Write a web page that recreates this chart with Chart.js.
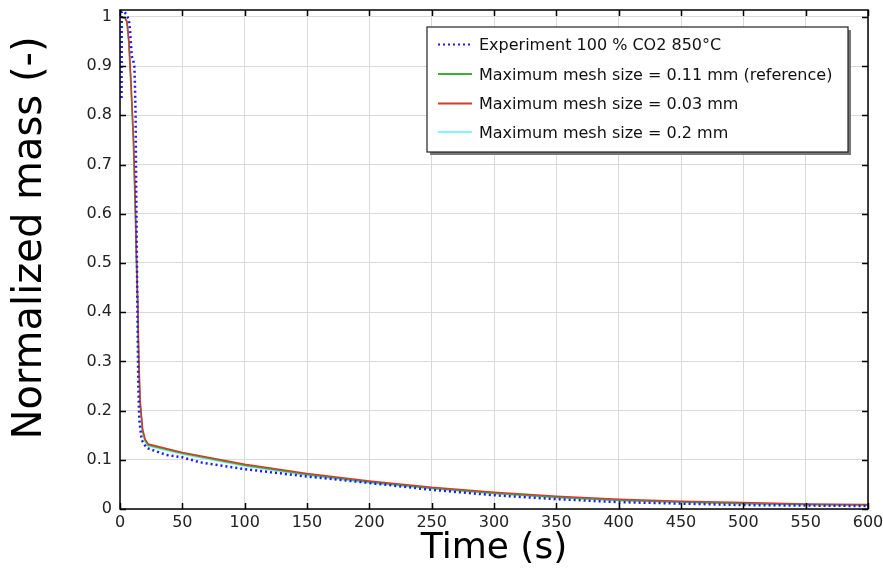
<!DOCTYPE html>
<html>
<head>
<meta charset="utf-8">
<script src="https://cdn.jsdelivr.net/npm/chart.js@4.4.1/dist/chart.umd.min.js"></script>
<style>
  html, body { margin: 0; padding: 0; background: #fff; }
  #wrap { width: 883px; height: 570px; position: relative; }
</style>
</head>
<body>
<div id="wrap"><canvas id="massChart" width="883" height="570"></canvas></div>
<script>
// Values
const seriesLabels = [
    'Experiment 100 % CO2 850°C',
    'Maximum mesh size = 0.11 mm (reference)',
    'Maximum mesh size = 0.03 mm',
    'Maximum mesh size = 0.2 mm'
];

const expTime = [1.2, 1.4, 3, 5, 7, 8, 9.4, 10.4, 11.5, 12, 12.5, 13, 13.6, 13.9, 14.7, 15.5, 17.4, 21.4, 37, 50, 64, 100, 150, 200, 250, 300, 350, 400, 450, 500, 550, 600];
const expMass = [0.835, 1.01, 1.012, 1.005, 0.995, 0.975, 0.92, 0.915, 0.9, 0.86, 0.8, 0.65, 0.5, 0.42, 0.25, 0.18, 0.14, 0.124, 0.11, 0.105, 0.095, 0.081, 0.066, 0.053, 0.039, 0.028, 0.020, 0.014, 0.011, 0.008, 0.007, 0.006];

const refTime = [0, 4, 5.5, 7, 8.8, 10.7, 12.3, 13.2, 14.1, 15, 16, 18, 20, 22.5, 50, 100, 150, 200, 250, 300, 350, 400, 450, 500, 550, 600];
const refMass = [1.0, 0.998, 0.99, 0.95, 0.86, 0.75, 0.6, 0.5, 0.42, 0.3, 0.22, 0.16, 0.14, 0.13, 0.113, 0.089, 0.070, 0.055, 0.042, 0.032, 0.024, 0.018, 0.014, 0.011, 0.009, 0.008];

const fineTime = [0, 4, 5.7, 7.2, 9, 10.9, 12.5, 13.4, 14.3, 15.2, 16.2, 18.2, 20.2, 22.7, 50, 100, 150, 200, 250, 300, 350, 400, 450, 500, 550, 600];
const fineMass = [1.0, 0.998, 0.99, 0.95, 0.86, 0.75, 0.6, 0.5, 0.42, 0.3, 0.22, 0.162, 0.142, 0.132, 0.115, 0.091, 0.072, 0.057, 0.044, 0.034, 0.026, 0.020, 0.016, 0.013, 0.010, 0.009];

const coarseTime = [0, 4, 5.4, 6.9, 8.7, 10.6, 12.2, 13.1, 14, 14.9, 15.9, 17.9, 19.9, 22.4, 50, 100, 150, 200, 250, 300, 350, 400, 450, 500, 550, 600];
const coarseMass = [1.0, 0.998, 0.99, 0.95, 0.86, 0.75, 0.6, 0.5, 0.42, 0.3, 0.22, 0.158, 0.138, 0.128, 0.111, 0.087, 0.068, 0.053, 0.041, 0.031, 0.023, 0.017, 0.013, 0.010, 0.008, 0.007];

const xTicks = [0, 50, 100, 150, 200, 250, 300, 350, 400, 450, 500, 550, 600];
const yTicks = [0, 0.1, 0.2, 0.3, 0.4, 0.5, 0.6, 0.7, 0.8, 0.9, 1];

const fontName = '"DejaVu Sans", Verdana, sans-serif';

function toPoints(xs, ys) {
    return xs.map((x, i) => ({ x: x, y: ys[i] }));
}

// Frame, inward tick marks, y title and the boxed legend
const framePlugin = {
    id: 'framePlugin',
    afterDraw(chart) {
        const ctx = chart.ctx;
        const a = chart.chartArea;
        const xs = chart.scales.x;
        const ys = chart.scales.y;
        ctx.save();
        ctx.strokeStyle = '#000';
        ctx.lineWidth = 1.5;
        ctx.beginPath();
        xTicks.forEach(v => {
            const px = Math.round(xs.getPixelForValue(v)) + 0.5;
            ctx.moveTo(px, a.bottom); ctx.lineTo(px, a.bottom - 6);
            ctx.moveTo(px, a.top); ctx.lineTo(px, a.top + 6);
        });
        yTicks.forEach(v => {
            const py = Math.round(ys.getPixelForValue(v)) + 0.5;
            ctx.moveTo(a.left, py); ctx.lineTo(a.left + 6, py);
            ctx.moveTo(a.right, py); ctx.lineTo(a.right - 6, py);
        });
        ctx.stroke();
        ctx.strokeRect(a.left, a.top, a.right - a.left, a.bottom - a.top);

        // y axis title
        ctx.save();
        ctx.translate(31, 238);
        ctx.rotate(-Math.PI / 2);
        ctx.font = '40px ' + fontName;
        ctx.fillStyle = '#000';
        ctx.textAlign = 'center';
        ctx.textBaseline = 'middle';
        ctx.fillText('Normalized mass (-)', 0, 0);
        ctx.restore();

        // legend box
        const bx = 427, by = 27, bw = 421, bh = 125;
        ctx.fillStyle = '#777';
        ctx.fillRect(bx + 3, by + 3, bw, bh);
        ctx.fillStyle = '#fff';
        ctx.fillRect(bx, by, bw, bh);
        ctx.strokeStyle = '#222';
        ctx.lineWidth = 1.2;
        ctx.strokeRect(bx, by, bw, bh);

        const rowY = [44.5, 74, 103.5, 132];
        ctx.font = '16px ' + fontName;
        ctx.textBaseline = 'middle';
        ctx.textAlign = 'left';
        chart.data.datasets.forEach((ds, i) => {
            const y = rowY[i];
            ctx.beginPath();
            ctx.strokeStyle = ds.borderColor;
            ctx.lineWidth = 2;
            ctx.setLineDash(ds.borderDash || []);
            ctx.moveTo(438, y);
            ctx.lineTo(472, y);
            ctx.stroke();
            ctx.setLineDash([]);
            ctx.fillStyle = '#111';
            ctx.fillText(ds.label, 479, y + 1.5);
        });
        ctx.restore();
    }
};

const ctx = document.getElementById('massChart').getContext('2d');
new Chart(ctx, {
    type: 'line',
    data: {
        datasets: [
            {
                label: seriesLabels[0],
                data: toPoints(expTime, expMass),
                borderColor: '#1a1aff',
                borderWidth: 2.5,
                borderDash: [2, 3],
                pointRadius: 0,
                tension: 0,
                order: 0
            },
            {
                label: seriesLabels[1],
                data: toPoints(refTime, refMass),
                borderColor: '#3cb035',
                borderWidth: 1.5,
                pointRadius: 0,
                tension: 0,
                order: 2
            },
            {
                label: seriesLabels[2],
                data: toPoints(fineTime, fineMass),
                borderColor: '#d23a2e',
                borderWidth: 1.5,
                pointRadius: 0,
                tension: 0,
                order: 1
            },
            {
                label: seriesLabels[3],
                data: toPoints(coarseTime, coarseMass),
                borderColor: '#7ff5f5',
                borderWidth: 1.5,
                pointRadius: 0,
                tension: 0,
                order: 3
            }
        ]
    },
    options: {
        responsive: false,
        animation: false,
        layout: { padding: { top: 10, right: 15, left: 0, bottom: 0 } },
        plugins: {
            legend: { display: false },
            tooltip: { enabled: false }
        },
        scales: {
            x: {
                type: 'linear',
                min: 0,
                max: 600,
                afterBuildTicks: axis => { axis.ticks = xTicks.map(v => ({ value: v })); },
                afterFit: axis => {
                    axis.height = 61;
                    axis.paddingLeft = 0;
                    axis.paddingRight = 0;
                },
                grid: { color: '#d9d9d9', lineWidth: 1, drawTicks: false },
                border: { display: false },
                ticks: {
                    font: { family: fontName, size: 16 },
                    color: '#222',
                    padding: 4,
                    maxRotation: 0
                },
                title: {
                    display: true,
                    text: 'Time (s)',
                    font: { family: fontName, size: 36 },
                    color: '#000',
                    padding: { top: 0, bottom: 0 }
                }
            },
            y: {
                type: 'linear',
                min: 0,
                max: 1.014,
                afterBuildTicks: axis => { axis.ticks = yTicks.map(v => ({ value: v })); },
                afterFit: axis => {
                    axis.width = 120;
                    axis.paddingTop = 0;
                    axis.paddingBottom = 0;
                },
                grid: { color: '#d9d9d9', lineWidth: 1, drawTicks: false },
                border: { display: false },
                ticks: {
                    font: { family: fontName, size: 16 },
                    color: '#222',
                    padding: 8,
                    callback: v => String(Math.round(v * 10) / 10)
                }
            }
        }
    },
    plugins: [framePlugin]
});
</script>
</body>
</html>
